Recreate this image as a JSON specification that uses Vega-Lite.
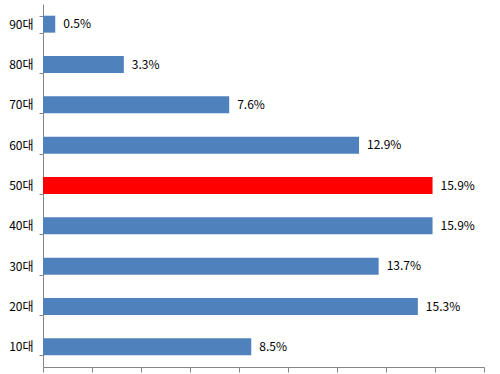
{
  "$schema": "https://vega.github.io/schema/vega-lite/v6.json",
  "autosize": "none",
  "width": 441,
  "height": 363,
  "padding": {"left": 43, "top": 4, "right": 16, "bottom": 7},
  "background": "white",
  "config": {"view": {"stroke": null}, "font": "Noto Sans CJK KR"},
  "data": {"values": [
    {"age": "90대", "share": 0.005},
    {"age": "80대", "share": 0.033},
    {"age": "70대", "share": 0.076},
    {"age": "60대", "share": 0.129},
    {"age": "50대", "share": 0.159},
    {"age": "40대", "share": 0.159},
    {"age": "30대", "share": 0.137},
    {"age": "20대", "share": 0.153},
    {"age": "10대", "share": 0.085}
  ]},
  "encoding": {
    "y": {"field": "age", "type": "nominal", "sort": null,
      "scale": {"paddingInner": 0.58, "paddingOuter": 0.29},
      "axis": {"title": null, "domainColor": "#868686", "tickColor": "#868686", "tickSize": 4, "tickBand": "extent",
        "labelFontSize": 12, "labelColor": "#000000", "labelPadding": 6, "labelFont": "Noto Sans CJK KR"}},
    "x": {"field": "share", "type": "quantitative",
      "scale": {"domain": [0, 0.18], "nice": false},
      "axis": {"title": null, "labels": false, "grid": false, "values": [0, 0.02, 0.04, 0.06, 0.08, 0.1, 0.12, 0.14, 0.16, 0.18],
        "domainColor": "#868686", "tickColor": "#868686", "tickSize": 5}}
  },
  "layer": [
    {"mark": {"type": "bar"},
     "encoding": {"color": {"condition": {"test": "datum.age === '50대'", "value": "#FF0000"}, "value": "#4F81BD"}}},
    {"mark": {"type": "text", "align": "left", "baseline": "middle", "dx": 8, "fontSize": 12, "color": "#000000"},
     "encoding": {"text": {"field": "share", "type": "quantitative", "format": ".1%"}}}
  ]
}
